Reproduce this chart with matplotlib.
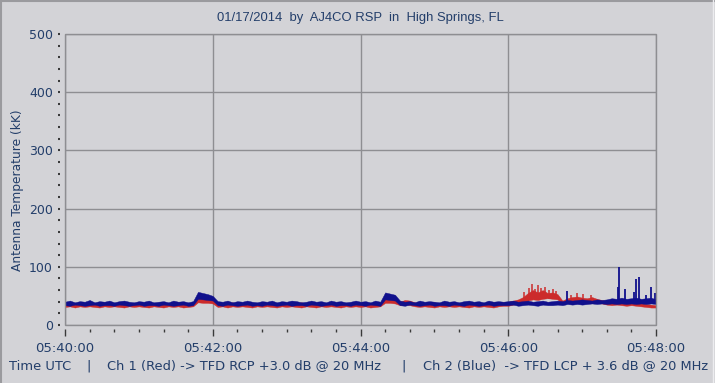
import matplotlib
matplotlib.use("Agg")
import matplotlib.pyplot as plt
from matplotlib.lines import Line2D
import numpy as np

# ---------------- data ----------------
# time in seconds after 05:40:00, sampled every 4 s (band low / high edges)
t_sec = list(range(0, 481, 4))

blue_hi = [40,42,39,41,40,43,39,41,40,42, 39,41,42,40,39,41,40,42,39,40,
           41,39,42,40,41,39,41, 57,55,53,50,
           41,40,42,39,41,40,42,40,39,
           41,40,42,39,41,40,42,41,39,40,
           42,40,41,39,42,40,41,39,40,42,
           40,41,39,42,40, 56,54,52, 42,40,
           41,39,42,40,41,40,39,42,40,41,
           39,41,42,40,41,39,42,40,41,40,
           41,42,40,41,42,40,41,42,40,41,
           42,41,43,42,43,44,43,42,44,43,
           44,46,45,47,45,46,47,45,46,47,44]
blue_lo = [34,33,35,34,33,34,35,33,34,34, 33,35,34,33,34,35,33,34,34,33,
           35,34,33,34,35,33,34, 45,44,43,42,
           34,33,35,34,33,34,35,33,34,
           33,35,34,33,34,35,33,34,34,33,
           35,34,33,34,35,33,34,34,33,35,
           34,33,35,34,33, 44,43,42, 34,33,
           35,34,33,34,35,33,34,34,33,35,
           34,33,35,34,33,34,35,33,34,34,
           34,35,33,34,35,34,33,35,34,34,
           35,34,36,35,36,35,36,37,36,37,
           36,37,36,37,36,37,36,37,36,37,36]
red_hi = [37,38,37,39,37,38,37,38,39,37, 38,37,39,38,37,38,37,39,38,37,
          38,37,38,39,37,38,37, 47,46,45,44,
          38,37,38,39,37,38,37,38,37,
          38,37,39,38,37,38,37,38,39,37,
          38,37,38,37,39,38,37,38,37,38,
          37,38,37,38,37, 46,45,44, 40,43,
          42,39,38,37,38,39,37,38,37,38,
          37,38,39,37,38,37,38,39,38,39,
          40,42,44,48,55,60,56,60,55,56,
          53,42,46,48,49,47,46,48,45,43,
          41,40,41,40,39,40,39,38,36,35,34]
red_lo = [31,32,30,32,31,32,31,30,32,31, 32,31,30,32,31,32,31,30,32,31,
          30,32,31,32,30,31,32, 39,38,38,37,
          31,32,30,32,31,32,31,30,32,
          31,32,31,30,32,31,32,31,30,32,
          31,30,32,31,32,31,30,32,31,32,
          31,32,30,31,32, 38,38,37, 34,36,
          34,32,31,32,31,30,32,31,32,31,
          32,31,30,32,31,32,31,30,32,33,
          33,35,36,38,42,44,43,45,46,45,
          44,36,38,40,40,39,38,39,38,37,
          35,34,35,34,33,34,33,32,31,30,30]

# narrow spikes
blue_spike_t = [408, 449, 450, 455, 462, 464, 466, 472, 476, 479]
blue_spike_v = [58, 66, 100, 62, 57, 79, 82, 52, 66, 55]
red_spike_t = [373, 377, 379, 382, 384, 387, 390, 393, 396, 399, 411, 416, 421, 427]
red_spike_v = [56, 64, 70, 62, 69, 63, 66, 60, 62, 58, 52, 55, 53, 52]

xtick_pos = [0, 120, 240, 360, 480]
xtick_labels = ["05:40:00", "05:42:00", "05:44:00", "05:46:00", "05:48:00"]
ytick_pos = [0, 100, 200, 300, 400, 500]

title = "01/17/2014  by  AJ4CO RSP  in  High Springs, FL"
ylabel = "Antenna Temperature (kK)"

# ---------------- styling ----------------
W, H = 715, 383
BG = "#D3D3D7"
TXT = "#233E6A"
GRID = "#8E8E92"
RED = "#CC2B2B"
BLUE = "#10108C"
PT = 0.72  # points per pixel at dpi 100

fig = plt.figure(figsize=(W / 100, H / 100), dpi=100, facecolor=BG)
L, R, T, B = 65, 656, 34, 325
ax = fig.add_axes([L / W, 1 - B / H, (R - L) / W, (B - T) / H], facecolor=BG)

x = np.array(t_sec)
ax.fill_between(x, red_lo, red_hi, color=RED, lw=0.3, zorder=3)
ax.vlines(red_spike_t, 44, red_spike_v, color=RED, lw=1.1, zorder=3)
ax.fill_between(x, blue_lo, blue_hi, color=BLUE, lw=0.3, zorder=4)
ax.vlines(blue_spike_t, 38, blue_spike_v, color=BLUE, lw=1.3, zorder=5)

ax.set_xlim(0, 480)
ax.set_ylim(0, 500)

ax.set_xticks(xtick_pos)
ax.set_xticklabels(xtick_labels)
ax.set_xticks(list(range(0, 481, 20)), minor=True)
ax.set_yticks(ytick_pos)
ax.set_yticklabels([str(v) for v in ytick_pos])
ax.set_yticks(list(range(0, 501, 20)), minor=True)

ax.grid(True, which="major", color=GRID, lw=1.0, zorder=1)
ax.set_axisbelow(True)

for s in ax.spines.values():
    s.set_visible(False)
ax.spines["bottom"].set_position(("outward", 4 * PT))
ax.spines["left"].set_position(("outward", 5 * PT))

ax.tick_params(axis="x", which="major", length=7 * PT, width=1.0, color="#3A3A3A",
               pad=6 * PT, labelsize=9.5, labelcolor=TXT)
ax.tick_params(axis="x", which="minor", length=3 * PT, width=1.0, color="#3A3A3A")
ax.tick_params(axis="y", which="both", length=2 * PT, width=1.5, color="#3A3A3A",
               pad=5 * PT, labelsize=9, labelcolor=TXT)

# plot frame
ax.add_patch(plt.Rectangle((0, 0), 1, 1, transform=ax.transAxes, fill=False,
                           edgecolor=GRID, lw=1.0, zorder=6, clip_on=False))

def fx(px):
    return px / W

def fy(py):
    return 1 - py / H

fig.text(fx(360), fy(18), title, ha="center", va="center", color=TXT,
         fontsize=9.4, family=["Liberation Sans Narrow", "Liberation Sans", "DejaVu Sans"])
fig.text(fx(18), fy(190), ylabel, ha="center", va="center", rotation=90,
         color=TXT, fontsize=8.8)

fy_b = fy(366)
fs_b = 9.4
fig.text(fx(9), fy_b, "Time UTC", ha="left", va="center", color=TXT, fontsize=fs_b)
fig.text(fx(89), fy_b, "|", ha="center", va="center", color=TXT, fontsize=fs_b)
fig.text(fx(107), fy_b, "Ch 1 (Red) -> TFD RCP +3.0 dB @ 20 MHz", ha="left",
         va="center", color=TXT, fontsize=fs_b)
fig.text(fx(404), fy_b, "|", ha="center", va="center", color=TXT, fontsize=fs_b)
fig.text(fx(423), fy_b, "Ch 2 (Blue)  -> TFD LCP + 3.6 dB @ 20 MHz", ha="left",
         va="center", color=TXT, fontsize=fs_b)

# panel border
fig.add_artist(Line2D([0.5 / W, 0.5 / W], [0, 1], color="#9A9A9E", lw=1.5, transform=fig.transFigure))
fig.add_artist(Line2D([0, 1], [1 - 0.5 / H, 1 - 0.5 / H], color="#9A9A9E", lw=1.5, transform=fig.transFigure))
fig.add_artist(Line2D([712.5 / W, 712.5 / W], [0, 1], color="#EDEDF0", lw=1.0, transform=fig.transFigure))

fig.savefig("out.png", dpi=100, facecolor=BG)
